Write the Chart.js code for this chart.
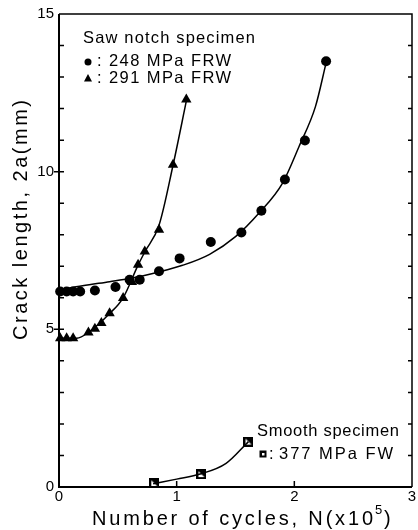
<!DOCTYPE html>
<html>
<head>
<meta charset="utf-8">
<script src="https://cdn.jsdelivr.net/npm/chart.js@4.4.0/dist/chart.umd.min.js"></script>
<style>
  html, body { margin: 0; padding: 0; background: #fff; }
  canvas { display: block; }
</style>
</head>
<body>
<canvas id="c" width="418" height="530"></canvas>
<script>
// ---- data ----
// 248 MPa FRW (saw notch) : circles
const circleX = [0.01, 0.065, 0.12, 0.18, 0.305, 0.48, 0.60, 0.686, 0.85, 1.025, 1.29, 1.55, 1.72, 1.92, 2.09, 2.27];
const circleY = [6.2, 6.2, 6.2, 6.2, 6.23, 6.34, 6.57, 6.57, 6.84, 7.25, 7.77, 8.07, 8.76, 9.75, 10.99, 13.5];
const circleFitX = [0, 0.2, 0.43, 0.6, 0.85, 1.05, 1.28, 1.5, 1.7, 1.9, 2.04, 2.18, 2.27];
const circleFitY = [6.25, 6.38, 6.51, 6.61, 6.82, 7.03, 7.38, 7.94, 8.69, 9.64, 10.8, 12.07, 13.45];
// 291 MPa FRW (saw notch) : triangles
const triX = [0.01, 0.065, 0.12, 0.25, 0.305, 0.36, 0.43, 0.545, 0.62, 0.672, 0.729, 0.85, 0.969, 1.082];
const triY = [4.72, 4.72, 4.72, 4.9, 5.02, 5.2, 5.51, 5.99, 6.5, 7.05, 7.47, 8.16, 10.22, 12.29];
const triFitX = [0, 0.15, 0.26, 0.43, 0.545, 0.67, 0.73, 0.85, 0.97, 1.085];
const triFitY = [4.72, 4.72, 4.93, 5.5, 6.0, 7.02, 7.46, 8.3, 10.22, 12.29];
// 377 MPa FW (smooth) : squares
const sqX = [0.81, 1.21, 1.61];
const sqY = [0.12, 0.41, 1.44];
const sqFitX = [0.8, 1.0, 1.2, 1.42, 1.61];
const sqFitY = [0.1, 0.25, 0.41, 0.75, 1.44];
// ticks
const xTicks = [0, 1, 2, 3];
const yTicks = [0, 5, 10, 15];
const xInnerTicks = [1, 2];
const yInnerTicks = [1,2,3,4,5,6,7,8,9,10,11,12,13,14];

const pts = (xs, ys) => xs.map((x, i) => ({ x: x, y: ys[i] }));
const FONT = '"Liberation Sans", Arial, Helvetica, sans-serif';

// half-filled square marker
const sqMarker = document.createElement('canvas');
sqMarker.width = 10; sqMarker.height = 10;
(function () {
  const g = sqMarker.getContext('2d');
  g.fillStyle = '#fff'; g.fillRect(0, 0, 10, 10);
  g.fillStyle = '#000';
  g.beginPath(); g.moveTo(1, 1); g.lineTo(9, 1); g.lineTo(9, 9); g.closePath(); g.fill();
  g.strokeStyle = '#000'; g.lineWidth = 2; g.strokeRect(1, 1, 8, 8);
})();

function fitText(ctx, txt, x0, x1, y, size) {
  ctx.font = size + 'px ' + FONT;
  const hasLS = ('letterSpacing' in ctx);
  if (hasLS) ctx.letterSpacing = '0px';
  const w = ctx.measureText(txt).width;
  const target = x1 - x0;
  ctx.textAlign = 'left';
  ctx.textBaseline = 'alphabetic';
  if (hasLS) {
    const ls = (target - w) / Math.max(1, txt.length - 1);
    ctx.letterSpacing = ls + 'px';
    ctx.fillText(txt, x0, y);
    ctx.letterSpacing = '0px';
  } else {
    ctx.save();
    ctx.translate(x0, y);
    ctx.scale(target / w, 1);
    ctx.fillText(txt, 0, 0);
    ctx.restore();
  }
}

const decor = {
  id: 'decor',
  afterDraw(chart) {
    const ctx = chart.ctx;
    const a = chart.chartArea;
    const xs = chart.scales.x, ys = chart.scales.y;
    ctx.save();
    ctx.strokeStyle = '#000';
    ctx.fillStyle = '#000';
    // frame
    ctx.lineWidth = 1.5;
    ctx.beginPath();
    ctx.moveTo(a.left, a.top); ctx.lineTo(a.right, a.top); ctx.lineTo(a.right, a.bottom);
    ctx.stroke();
    ctx.lineWidth = 2;
    ctx.beginPath();
    ctx.moveTo(a.left, a.top); ctx.lineTo(a.left, a.bottom); ctx.lineTo(a.right, a.bottom);
    ctx.stroke();
    // tick marks
    ctx.lineWidth = 1.5;
    ctx.beginPath();
    yInnerTicks.forEach(v => {
      const py = ys.getPixelForValue(v);
      const major = v % 5 === 0;
      ctx.moveTo(a.left - (major ? 5 : 0), py); ctx.lineTo(a.left + 5, py);
      ctx.moveTo(a.right, py); ctx.lineTo(a.right - 4, py);
    });
    xInnerTicks.forEach(v => {
      const px = xs.getPixelForValue(v);
      ctx.moveTo(px, a.bottom); ctx.lineTo(px, a.bottom - 6);
    });
    ctx.stroke();

    // axis titles
    fitText(ctx, 'Number of cycles, N(x10', 92, 373, 525, 20);
    ctx.font = '13px ' + FONT;
    ctx.textAlign = 'left';
    ctx.fillText('5', 375, 514);
    ctx.font = '20px ' + FONT;
    ctx.fillText(')', 384, 525);

    ctx.save();
    ctx.translate(27, 340);
    ctx.rotate(-Math.PI / 2);
    fitText(ctx, 'Crack length, 2a(mm)', 0, 240, 0, 20);
    ctx.restore();

    // annotations
    fitText(ctx, 'Saw notch specimen', 83, 255, 43, 16.5);
    ctx.beginPath(); ctx.arc(88, 62, 3.5, 0, Math.PI * 2); ctx.fill();
    fitText(ctx, ':', 97, 100, 66, 16.5);
    fitText(ctx, '248 MPa FRW', 109, 231, 66, 16.5);
    ctx.beginPath(); ctx.moveTo(88, 74); ctx.lineTo(92, 81.5); ctx.lineTo(84, 81.5); ctx.closePath(); ctx.fill();
    fitText(ctx, ':', 97, 100, 82.5, 16.5);
    fitText(ctx, '291 MPa FRW', 109, 231, 82.5, 16.5);

    fitText(ctx, 'Smooth specimen', 257, 399, 436, 16.5);
    ctx.fillRect(259.5, 450.5, 7, 7);
    ctx.fillStyle = '#fff'; ctx.fillRect(262, 453, 2.5, 2.5); ctx.fillStyle = '#000';
    fitText(ctx, ':', 269, 272, 459, 16.5);
    fitText(ctx, '377 MPa FW', 279, 393, 459, 16.5);
    ctx.restore();
  }
};

new Chart(document.getElementById('c'), {
  type: 'scatter',
  data: {
    datasets: [
      { data: pts(circleFitX, circleFitY), showLine: true, borderColor: '#000', borderWidth: 1.5, pointRadius: 0, cubicInterpolationMode: 'monotone', fill: false },
      { data: pts(triFitX, triFitY), showLine: true, borderColor: '#000', borderWidth: 1.5, pointRadius: 0, cubicInterpolationMode: 'monotone', fill: false },
      { data: pts(sqFitX, sqFitY), showLine: true, borderColor: '#000', borderWidth: 1.5, pointRadius: 0, cubicInterpolationMode: 'monotone', fill: false },
      { data: pts(circleX, circleY), pointStyle: 'circle', pointRadius: 5, backgroundColor: '#000', borderColor: '#000', borderWidth: 0, clip: false },
      { data: pts(triX, triY), pointStyle: 'triangle', pointRadius: 6, backgroundColor: '#000', borderColor: '#000', borderWidth: 0, clip: false },
      { data: pts(sqX, sqY), pointStyle: sqMarker, pointRadius: 5, backgroundColor: '#fff', borderColor: '#000', borderWidth: 0, clip: false }
    ]
  },
  options: {
    responsive: false,
    animation: false,
    devicePixelRatio: 1,
    layout: { padding: { top: 14, right: 5, left: 0, bottom: 0 } },
    plugins: { legend: { display: false }, tooltip: { enabled: false }, title: { display: false } },
    events: [],
    scales: {
      x: {
        type: 'linear', min: 0, max: 3,
        grid: { display: false, drawTicks: false },
        border: { display: false },
        afterBuildTicks: s => { s.ticks = xTicks.map(v => ({ value: v })); },
        afterFit: s => { s.height = 43; },
        ticks: { color: '#000', padding: 1, maxRotation: 0, autoSkip: false, font: { family: FONT, size: 15 } }
      },
      y: {
        type: 'linear', min: 0, max: 15,
        grid: { display: false, drawTicks: false },
        border: { display: false },
        afterBuildTicks: s => { s.ticks = yTicks.map(v => ({ value: v })); },
        afterFit: s => { s.width = 59; },
        ticks: { color: '#000', padding: 5, autoSkip: false, font: { family: FONT, size: 15 } }
      }
    }
  },
  plugins: [decor]
});
</script>
</body>
</html>
